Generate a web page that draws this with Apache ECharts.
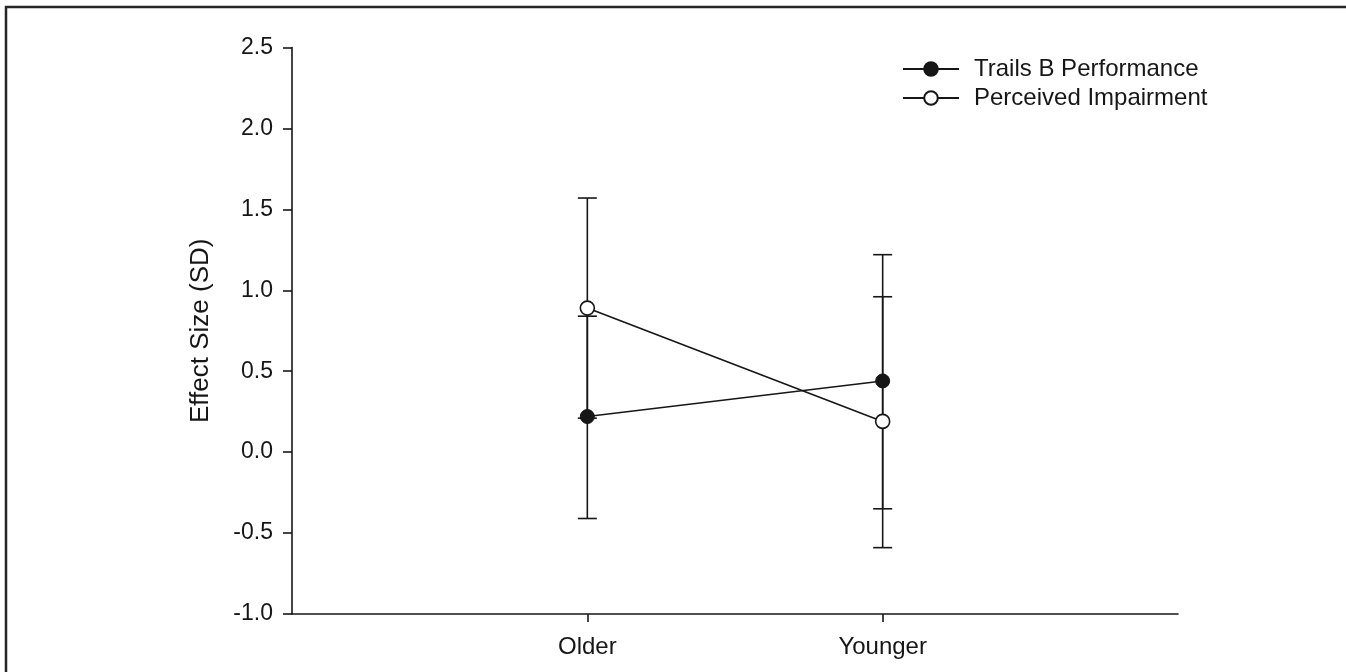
<!DOCTYPE html>
<html>
<head>
<meta charset="utf-8">
<title>Effect Size by Age Group</title>
<script src="https://cdn.jsdelivr.net/npm/echarts@6/dist/echarts.min.js"></script>
<style>
  html, body { margin: 0; padding: 0; background: #fff; }
  #chart { width: 1346px; height: 672px; }
</style>
</head>
<body>
<div id="chart"></div>
<script>
// Age groups on the x axis
const groups = ['Older', 'Younger'];

// Trails B Performance: effect size with lower / upper error bounds
const trailsMean = [0.22, 0.44];
const trailsLow = [-0.41, -0.35];
const trailsHigh = [0.84, 1.22];

// Perceived Impairment: effect size with lower / upper error bounds
const perceivedMean = [0.89, 0.19];
const perceivedLow = [0.21, -0.59];
const perceivedHigh = [1.57, 0.96];

// Y axis ticks
const yTicks = [-1.0, -0.5, 0.0, 0.5, 1.0, 1.5, 2.0, 2.5];

const INK = '#161616';
const FONT = '"Liberation Sans", Arial, Helvetica, sans-serif';

// Empty slots on both sides put the two groups at 1/3 and 2/3 of the axis
const xCats = [''].concat(groups, ['']);

function errorData(low, high) {
  return groups.map((g, i) => [i + 1, low[i], high[i]]);
}

function renderErrorBar(params, api) {
  const xi = api.value(0);
  const lo = api.coord([xi, api.value(1)]);
  const hi = api.coord([xi, api.value(2)]);
  const half = 9.5;
  const style = { stroke: INK, lineWidth: 1.6 };
  return {
    type: 'group',
    children: [
      { type: 'line', shape: { x1: lo[0], y1: lo[1], x2: hi[0], y2: hi[1] }, style },
      { type: 'line', shape: { x1: lo[0] - half, y1: lo[1], x2: lo[0] + half, y2: lo[1] }, style },
      { type: 'line', shape: { x1: hi[0] - half, y1: hi[1], x2: hi[0] + half, y2: hi[1] }, style }
    ]
  };
}

function lineData(values) {
  return values.map((v, i) => [i + 1, v]);
}

const chart = echarts.init(document.getElementById('chart'), null, { renderer: 'canvas' });

chart.setOption({
  animation: false,
  backgroundColor: '#fff',
  textStyle: { fontFamily: FONT, color: INK },
  grid: { left: 292, right: 168, top: 47.5, bottom: 58, containLabel: false },
  xAxis: {
    type: 'category',
    data: xCats,
    boundaryGap: false,
    axisLine: { show: true, onZero: false, lineStyle: { color: INK, width: 1.6 } },
    axisTick: {
      show: true,
      length: 8,
      lineStyle: { color: INK, width: 1.6 },
      interval: (idx) => idx > 0 && idx < xCats.length - 1
    },
    axisLabel: {
      color: INK,
      fontFamily: FONT,
      fontSize: 24,
      margin: 21,
      interval: 0
    },
    splitLine: { show: false }
  },
  yAxis: {
    type: 'value',
    min: yTicks[0],
    max: yTicks[yTicks.length - 1],
    interval: 0.5,
    name: 'Effect Size (SD)',
    nameLocation: 'middle',
    nameGap: 78,
    nameTextStyle: { color: INK, fontFamily: FONT, fontSize: 26 },
    axisLine: { show: true, lineStyle: { color: INK, width: 1.6 } },
    axisTick: { show: true, length: 9, lineStyle: { color: INK, width: 1.6 } },
    axisLabel: {
      color: INK,
      fontFamily: FONT,
      fontSize: 23,
      margin: 19,
      formatter: (v) => v.toFixed(1)
    },
    splitLine: { show: false }
  },
  legend: {
    left: 902,
    top: 57,
    padding: 0,
    orient: 'vertical',
    itemWidth: 56,
    itemHeight: 17,
    itemGap: 5,
    data: ['Trails B Performance', 'Perceived Impairment'],
    textStyle: { color: INK, fontFamily: FONT, fontSize: 24, padding: [0, 0, 0, 10] }
  },
  graphic: [
    {
      type: 'rect',
      silent: true,
      shape: { x: 6, y: 7, width: 1500, height: 800 },
      style: { fill: 'none', stroke: '#262626', lineWidth: 2.5 }
    }
  ],
  series: [
    {
      name: 'Trails B error',
      type: 'custom',
      renderItem: renderErrorBar,
      data: errorData(trailsLow, trailsHigh),
      z: 2
    },
    {
      name: 'Perceived error',
      type: 'custom',
      renderItem: renderErrorBar,
      data: errorData(perceivedLow, perceivedHigh),
      z: 2
    },
    {
      name: 'Trails B Performance',
      type: 'line',
      data: lineData(trailsMean),
      symbol: 'circle',
      symbolSize: 14,
      itemStyle: { color: INK, borderColor: INK, borderWidth: 1 },
      lineStyle: { color: INK, width: 1.6 },
      z: 5
    },
    {
      name: 'Perceived Impairment',
      type: 'line',
      data: lineData(perceivedMean),
      symbol: 'circle',
      symbolSize: 14,
      itemStyle: { color: '#ffffff', borderColor: INK, borderWidth: 1.6 },
      lineStyle: { color: INK, width: 1.6 },
      z: 5
    }
  ]
});
</script>
</body>
</html>
